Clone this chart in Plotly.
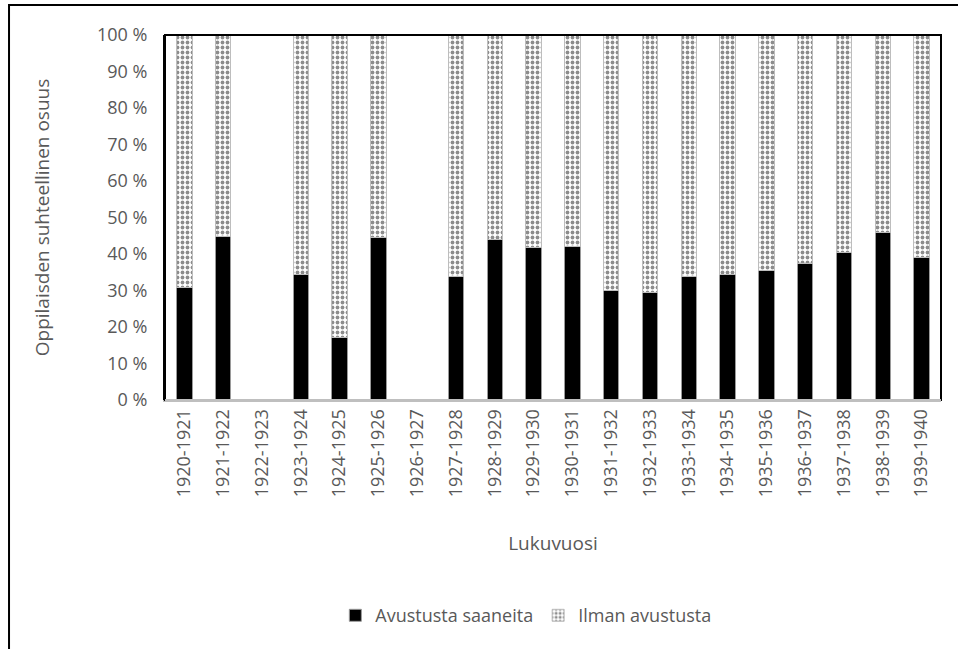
import plotly.graph_objects as go

# %% Data
years = [
    "1920-1921", "1921-1922", "1922-1923", "1923-1924", "1924-1925",
    "1925-1926", "1926-1927", "1927-1928", "1928-1929", "1929-1930",
    "1930-1931", "1931-1932", "1932-1933", "1933-1934", "1934-1935",
    "1935-1936", "1936-1937", "1937-1938", "1938-1939", "1939-1940",
]
avustusta = [30.9, 44.7, None, 34.5, 17.2, 44.4, None, 33.8, 44.1, 41.9,
             42.1, 30.1, 29.4, 33.8, 34.3, 35.6, 37.5, 40.5, 45.8, 39.0]
ilman = [None if v is None else 100 - v for v in avustusta]

font = "Open Sans, Noto Sans, sans-serif"
grey = "#595959"

# %% Plot
fig = go.Figure()
fig.add_trace(go.Bar(
    x=years, y=avustusta, name="Avustusta saaneita",
    marker=dict(color="black", line=dict(color="#9a9a9a", width=1)),
))
fig.add_trace(go.Bar(
    x=years, y=ilman, name="Ilman avustusta",
    marker=dict(
        color="white",
        line=dict(color="#bdbdbd", width=1),
        pattern=dict(shape=".", fgcolor="#1a1a1a", bgcolor="white",
                     size=5, solidity=0.45),
    ),
))

fig.update_layout(
    barmode="stack",
    bargap=0.6,
    width=958, height=649,
    margin=dict(l=165, r=17, t=35, b=249),
    paper_bgcolor="white", plot_bgcolor="white",
    font=dict(family=font, size=18, color=grey),
    legend=dict(orientation="h", x=0.465, xanchor="center", y=-0.54,
                yanchor="top", font=dict(size=18, color=grey),
                traceorder="normal"),
    showlegend=True,
)
fig.update_xaxes(
    title=dict(text="Lukuvuosi", font=dict(size=19, color=grey), standoff=40),
    tickangle=-90, tickfont=dict(size=18, color=grey),
    showline=True, linecolor="#bfbfbf", linewidth=2,
    ticks="",
)
fig.update_yaxes(
    title=dict(text="Oppilaisden suhteellinen osuus", font=dict(size=19, color=grey),
               standoff=42),
    range=[0, 100], dtick=10, ticksuffix=" %",
    tickfont=dict(size=18, color=grey),
    showgrid=False, zeroline=False,
    showline=True, linecolor="black", linewidth=2,
    ticks="outside", ticklen=12, tickcolor="rgba(0,0,0,0)",
)

# frame around the plot area
fig.add_shape(type="rect", xref="paper", yref="paper", x0=0, x1=1, y0=0, y1=1,
              line=dict(color="black", width=2), layer="above")
fig.add_shape(type="line", xref="paper", yref="paper", x0=0, x1=1, y0=0, y1=0,
              line=dict(color="#bfbfbf", width=2), layer="above")
# outer chart border
fig.add_shape(type="rect", xref="paper", yref="paper",
              x0=-0.201, x1=1.1, y0=-1.0, y1=1.082,
              line=dict(color="black", width=2), layer="above")

fig.write_html("out.html", config={"displayModeBar": False},
               post_script="document.body.style.margin='0';")
